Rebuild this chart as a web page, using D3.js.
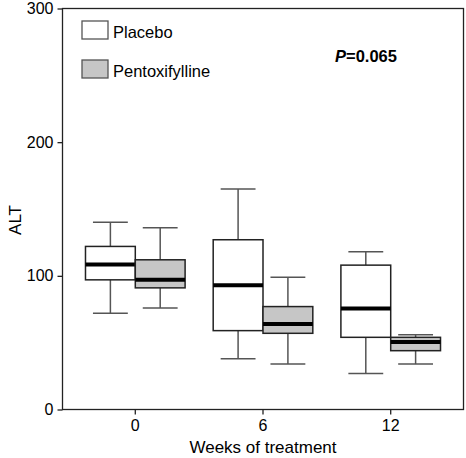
<!DOCTYPE html>
<html><head><meta charset="utf-8">
<script src="https://cdn.jsdelivr.net/npm/d3@7"></script>
<style>body{margin:0;background:#fff}svg{display:block}text{font-family:"Liberation Sans",Arial,sans-serif}</style>
</head><body>
<script>
const weeks = ["0", "6", "12"];
const groups = ["Placebo", "Pentoxifylline"];
const groupFills = ["#ffffff", "#c6c6c6"];
// [whiskerLow, q1, median, q3, whiskerHigh] per week
const placebo = [[72, 97, 108.5, 122, 140], [38, 59, 93, 127, 165], [27, 54, 75.5, 108, 118]];
const pentox = [[76, 91, 97, 112, 136], [34, 57, 64, 77, 99], [34, 44, 50.5, 54, 56]];
const yTicks = [0, 100, 200, 300];

const W = 466, H = 458;
const m = {l: 62.5, r: 463.5, t: 8.5, b: 409.5};
const svg = d3.select("body").append("svg").attr("width", W).attr("height", H);

const x = d3.scaleBand().domain(weeks).range([m.l, m.r]).paddingInner(0.22).paddingOuter(0.18);
const sub = d3.scaleBand().domain(groups).range([0, x.bandwidth()]);
const y = d3.scaleLinear().domain([0, 300]).range([m.b, m.t]);

const FF = '"Liberation Sans",Arial,sans-serif';

// frame
svg.append("rect").attr("x", m.l).attr("y", m.t).attr("width", m.r - m.l).attr("height", m.b - m.t)
  .attr("fill", "none").attr("stroke", "#222").attr("stroke-width", 1.3);

// axes
const yAxis = d3.axisLeft(y).tickValues(yTicks).tickSize(5).tickPadding(4);
const gy = svg.append("g").attr("transform", `translate(${m.l},0)`).call(yAxis);
gy.select(".domain").remove();
gy.selectAll("text").attr("font-size", 16).attr("fill", "#000").style("font-family", FF);
gy.selectAll("line").attr("stroke", "#222").attr("stroke-width", 1.3);

const xAxis = d3.axisBottom(x).tickSize(5).tickPadding(5);
const gx = svg.append("g").attr("transform", `translate(0,${m.b})`).call(xAxis);
gx.select(".domain").remove();
gx.selectAll("text").attr("font-size", 16).attr("fill", "#000").style("font-family", FF);
gx.selectAll("line").attr("stroke", "#222").attr("stroke-width", 1.3);

svg.append("text").attr("transform", `translate(21,${(m.t + m.b) / 2 + 11}) rotate(-90)`)
  .attr("text-anchor", "middle").attr("font-size", 17).text("ALT");
svg.append("text").attr("x", (m.l + m.r) / 2).attr("y", 453)
  .attr("text-anchor", "middle").attr("font-size", 17).text("Weeks of treatment");

const series = [placebo, pentox];
series.forEach((data, gi) => {
  data.forEach((d, wi) => {
    const [lo, q1, med, q3, hi] = d;
    const x0 = x(weeks[wi]) + sub(groups[gi]);
    const bw = sub.bandwidth();
    const cx = x0 + bw / 2;
    const cap = bw * 0.35;
    const g = svg.append("g");
    const wstroke = "#555";
    g.append("line").attr("x1", cx).attr("x2", cx).attr("y1", y(hi)).attr("y2", y(q3)).attr("stroke", wstroke).attr("stroke-width", 1.5);
    g.append("line").attr("x1", cx).attr("x2", cx).attr("y1", y(q1)).attr("y2", y(lo)).attr("stroke", wstroke).attr("stroke-width", 1.5);
    g.append("line").attr("x1", cx - cap).attr("x2", cx + cap).attr("y1", y(hi)).attr("y2", y(hi)).attr("stroke", wstroke).attr("stroke-width", 1.5);
    g.append("line").attr("x1", cx - cap).attr("x2", cx + cap).attr("y1", y(lo)).attr("y2", y(lo)).attr("stroke", wstroke).attr("stroke-width", 1.5);
    g.append("rect").attr("x", x0).attr("y", y(q3)).attr("width", bw).attr("height", y(q1) - y(q3))
      .attr("fill", groupFills[gi]).attr("stroke", "#222").attr("stroke-width", 1.5);
    g.append("line").attr("x1", x0).attr("x2", x0 + bw).attr("y1", y(med)).attr("y2", y(med))
      .attr("stroke", "#000").attr("stroke-width", 4);
  });
});

// legend
groups.forEach((name, i) => {
  const ly = 21 + i * 39;
  svg.append("rect").attr("x", 82).attr("y", ly).attr("width", 26).attr("height", 18)
    .attr("fill", groupFills[i]).attr("stroke", "#555").attr("stroke-width", 1.3);
  svg.append("text").attr("x", 113).attr("y", ly + 16.5).attr("font-size", 16.5).text(name);
});

const pt = svg.append("text").attr("x", 335).attr("y", 62).attr("font-size", 16.5).attr("font-weight", "bold");
pt.append("tspan").attr("font-style", "italic").text("P");
pt.append("tspan").text("=0.065");
</script>
</body></html>
